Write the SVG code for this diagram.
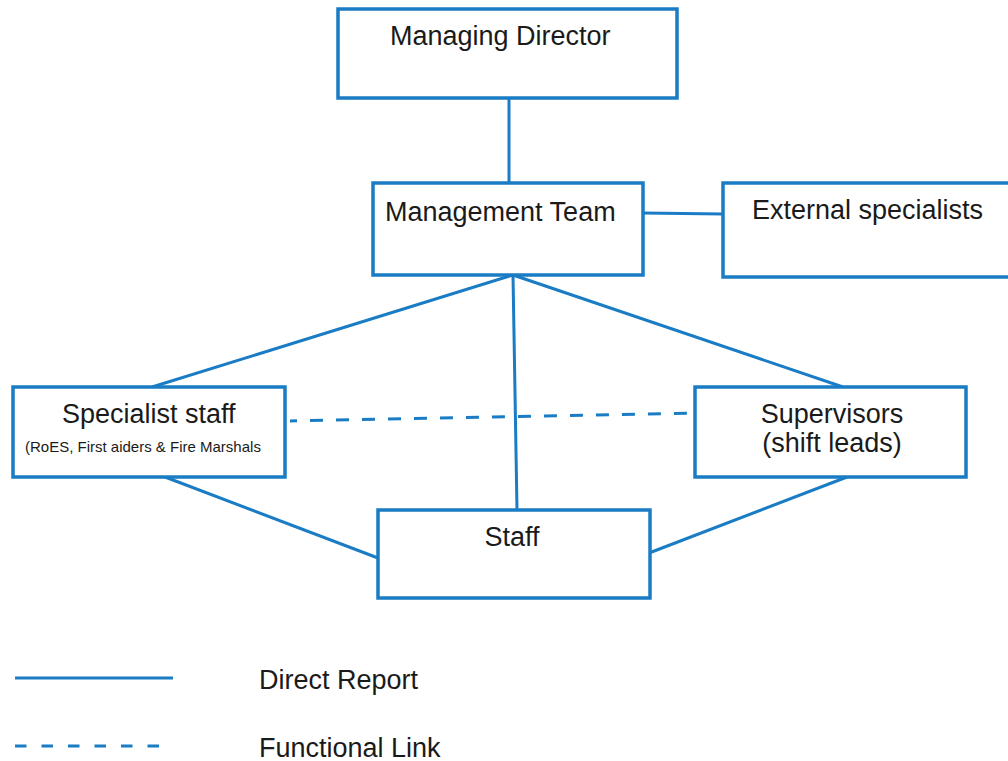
<svg xmlns="http://www.w3.org/2000/svg" width="1008" height="761" viewBox="0 0 1008 761">
<style>
.box{fill:#ffffff;stroke:#1a7cc4;stroke-width:3.5}
.ln{stroke:#1a7cc4;stroke-width:3;fill:none;stroke-linecap:butt}
.dash{stroke:#1a7cc4;stroke-width:3;fill:none;stroke-dasharray:13 13}
.t{font-family:"Liberation Sans",Arial,sans-serif;font-size:27px;fill:#1a1a1a}
.s{font-family:"Liberation Sans",Arial,sans-serif;font-size:15px;fill:#1a1a1a}
</style>
<rect x="0" y="0" width="1008" height="761" fill="#ffffff"/>
<g id="connectors">
<line class="ln" x1="509" y1="98" x2="509" y2="183"/>
<line class="ln" x1="643" y1="213" x2="723" y2="214"/>
<line class="ln" x1="513" y1="275" x2="152" y2="387"/>
<line class="ln" x1="513" y1="275" x2="517" y2="510"/>
<line class="ln" x1="513" y1="275" x2="843" y2="387"/>
<line class="ln" x1="165" y1="477" x2="378" y2="558"/>
<line class="ln" x1="847" y1="477" x2="649" y2="553"/>
<line class="dash" x1="290" y1="421" x2="694" y2="413" stroke-dashoffset="6"/>
</g>
<g id="managing-director">
<rect class="box" x="338" y="9" width="339" height="89"/>
<text class="t" x="390" y="45">Managing Director</text>
</g>
<g id="management-team">
<rect class="box" x="373" y="183" width="270" height="92"/>
<text class="t" x="385" y="221">Management Team</text>
</g>
<g id="external-specialists">
<rect class="box" x="723" y="183" width="295" height="94"/>
<text class="t" x="752" y="219">External specialists</text>
</g>
<g id="specialist-staff">
<rect class="box" x="13" y="387" width="272" height="90"/>
<text class="t" x="62" y="423">Specialist staff</text>
<text class="s" x="25" y="452">(RoES, First aiders &amp; Fire Marshals</text>
</g>
<g id="supervisors">
<rect class="box" x="695" y="387" width="271" height="90"/>
<text class="t" x="832" y="423" text-anchor="middle">Supervisors</text>
<text class="t" x="832" y="452" text-anchor="middle">(shift leads)</text>
</g>
<g id="staff">
<rect class="box" x="378" y="510" width="272" height="88"/>
<text class="t" x="512" y="546" text-anchor="middle">Staff</text>
</g>
<g id="legend">
<line class="ln" x1="15" y1="678" x2="173" y2="678"/>
<text class="t" x="259" y="689">Direct Report</text>
<line class="ln" x1="15" y1="746" x2="163" y2="746" stroke-dasharray="11.5 15"/>
<text class="t" x="259" y="757">Functional Link</text>
</g>
</svg>
